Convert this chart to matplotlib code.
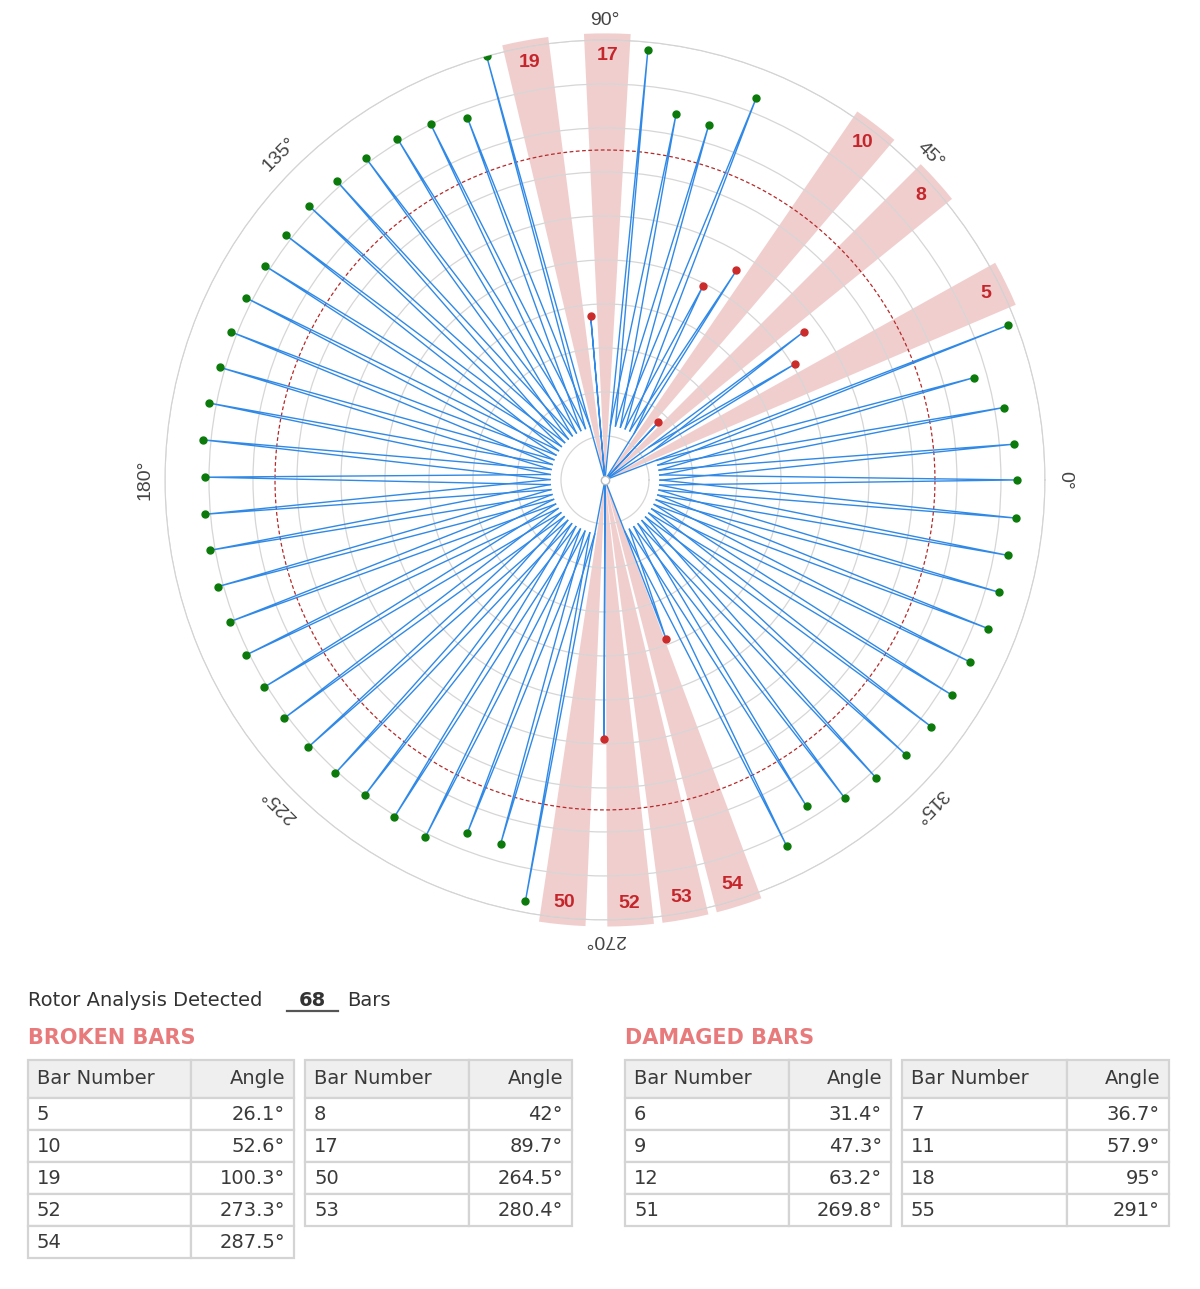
import numpy as np
import matplotlib.pyplot as plt
from matplotlib.patches import Rectangle

# rotor bars, angle in degrees, tip length (0 = broken bar)
bar_numbers = list(range(1, 69))
bar_angles = [5.0, 10.3, 15.5, 21.0, 26.1, 31.4, 36.7, 42.0, 47.3, 52.6,
              57.9, 63.2, 68.4, 73.7, 79.0, 84.3, 89.7, 95.0, 100.3, 105.6,
              110.8, 116.1, 121.3, 126.6, 131.9, 137.2, 142.5, 147.8, 153.1, 158.4,
              163.7, 169.0, 174.3, 179.6, 184.9, 190.1, 195.4, 200.7, 206.0, 211.3,
              216.6, 222.0, 227.4, 232.7, 238.0, 243.3, 248.7, 254.0, 259.3, 264.5,
              269.8, 273.3, 280.4, 287.5, 291.0, 296.4, 301.7, 307.0, 312.3, 317.6,
              322.9, 328.2, 333.5, 338.8, 344.1, 349.4, 354.7, 0.0]
bar_lengths = [9.33, 9.21, 8.70, 9.81, 0, 5.06, 5.64, 0, 1.79, 0,
               5.62, 4.93, 9.33, 8.41, 8.47, 9.82, 0, 3.75, 0, 10.0,
               8.80, 9.01, 9.08, 9.12, 9.13, 9.18, 9.14, 9.14, 9.14, 9.13,
               9.11, 9.16, 9.18, 9.09, 9.12, 9.11, 9.12, 9.11, 9.07, 9.06,
               9.08, 9.08, 9.05, 9.01, 9.04, 9.08, 8.62, 8.61, 9.75, 0,
               5.89, 0, 0, 0, 3.88, 9.29, 8.72, 9.06, 9.16, 9.26,
               9.29, 9.27, 9.27, 9.34, 9.32, 9.33, 9.38, 9.36]

broken_bars = [5, 8, 10, 17, 19, 50, 52, 53, 54]
broken_angles = [26.1, 42, 52.6, 89.7, 100.3, 264.5, 273.3, 280.4, 287.5]
damaged_bars = [6, 7, 9, 11, 12, 18, 51, 55]
damaged_angles = [31.4, 36.7, 47.3, 57.9, 63.2, 95, 269.8, 291]

detected_bars = 68
limit_radius = 7.5

fig = plt.figure(figsize=(12, 12.89), dpi=100)

# pixel-space canvas for the text and tables
bg = fig.add_axes([0, 0, 1, 1])
bg.set_xlim(0, 1200)
bg.set_ylim(1289, 0)
bg.axis('off')

ax = fig.add_axes([0.1375, 0.2863, 0.7333, 0.6827], projection='polar')
ax.set_ylim(0, 10)
ax.set_rticks(range(1, 11))
ax.set_yticklabels([])
ax.set_xticks([])
ax.set_axisbelow(False)
ax.yaxis.grid(True, color='#d6d6d6', lw=0.9)
ax.xaxis.grid(False)
ax.spines['polar'].set_color('#d0d0d0')
ax.set_facecolor('none')

# broken bars as shaded wedges
for b, a in zip(broken_bars, broken_angles):
    t = np.deg2rad(a)
    ax.bar(t, 10.15, width=np.deg2rad(6), bottom=0, color=(0.8, 0.3, 0.3, 0.27),
           edgecolor='none', zorder=1, clip_on=False)
    ax.text(t, 9.65, str(b), color='#c4262b', fontsize=14, fontweight='bold',
            family='Liberation Sans', ha='center', va='center', zorder=5)

# limit circle
th = np.linspace(0, 2 * np.pi, 400)
ax.plot(th, np.full_like(th, limit_radius), color='#b52a2a', lw=0.9,
        ls=(0, (3, 2)), zorder=2.6)

# bars
n = len(bar_numbers)
r_in = 1.25
delta = np.deg2rad(5.3)
for i in range(n):
    if bar_numbers[i] in broken_bars:
        continue
    t = np.deg2rad(bar_angles[i])
    prev_broken = bar_numbers[(i - 1) % n] in broken_bars
    next_broken = bar_numbers[(i + 1) % n] in broken_bars
    lo = (t, 0) if prev_broken else (t - delta, r_in)
    hi = (t, 0) if next_broken else (t + delta, r_in)
    ax.plot([lo[0], t, hi[0]], [lo[1], bar_lengths[i], hi[1]],
            color='#3089e6', lw=1.0, zorder=3)
    dot = '#cc2b2b' if bar_numbers[i] in damaged_bars else '#0b7a0b'
    ax.plot(t, bar_lengths[i], 'o', color=dot, ms=5, zorder=4)

ax.plot(0, 0, 'o', mfc='white', mec='#bbbbbb', ms=6, zorder=6)

# angular labels
for deg in range(0, 360, 45):
    ax.text(np.deg2rad(deg), 10.45, f'{deg}°', rotation=deg - 90,
            rotation_mode='anchor', ha='center', va='center',
            fontsize=14, color='#444444', family='Liberation Sans')

# summary line
bg.text(28, 1000, 'Rotor Analysis Detected', fontsize=14, color='#333333', va='center')
bg.text(312, 1000, str(detected_bars), fontsize=14, color='#333333', va='center',
        ha='center', fontweight='bold')
bg.plot([287, 338], [1011, 1011], color='#555555', lw=1.6)
bg.text(347, 1000, 'Bars', fontsize=14, color='#333333', va='center')

bg.text(28, 1038, 'BROKEN BARS', fontsize=15, fontweight='bold', color='#e87a7c', va='center')
bg.text(625, 1038, 'DAMAGED BARS', fontsize=15, fontweight='bold', color='#e87a7c', va='center')


def draw_table(x0, xm, x1, bars, angles):
    y = 1060
    rows = [('Bar Number', 'Angle', 38, '#efefef')]
    for b, a in zip(bars, angles):
        rows.append((str(b), f'{a:g}°', 32, 'white'))
    for left, right, h, fc in rows:
        for cx0, cx1 in [(x0, xm), (xm, x1)]:
            bg.add_patch(Rectangle((cx0, y), cx1 - cx0, h, facecolor=fc,
                                   edgecolor='#d4d4d4', lw=1.6))
        bg.text(x0 + 9, y + h / 2, left, fontsize=14, color='#3a3a3a', va='center')
        bg.text(x1 - 9, y + h / 2, right, fontsize=14, color='#3a3a3a',
                va='center', ha='right')
        y += h


draw_table(28, 191, 294, broken_bars[0::2], broken_angles[0::2])
draw_table(305, 469, 572, broken_bars[1::2], broken_angles[1::2])
draw_table(625, 789, 891, damaged_bars[0::2], damaged_angles[0::2])
draw_table(902, 1067, 1169, damaged_bars[1::2], damaged_angles[1::2])

fig.savefig('out.png', dpi=100)
